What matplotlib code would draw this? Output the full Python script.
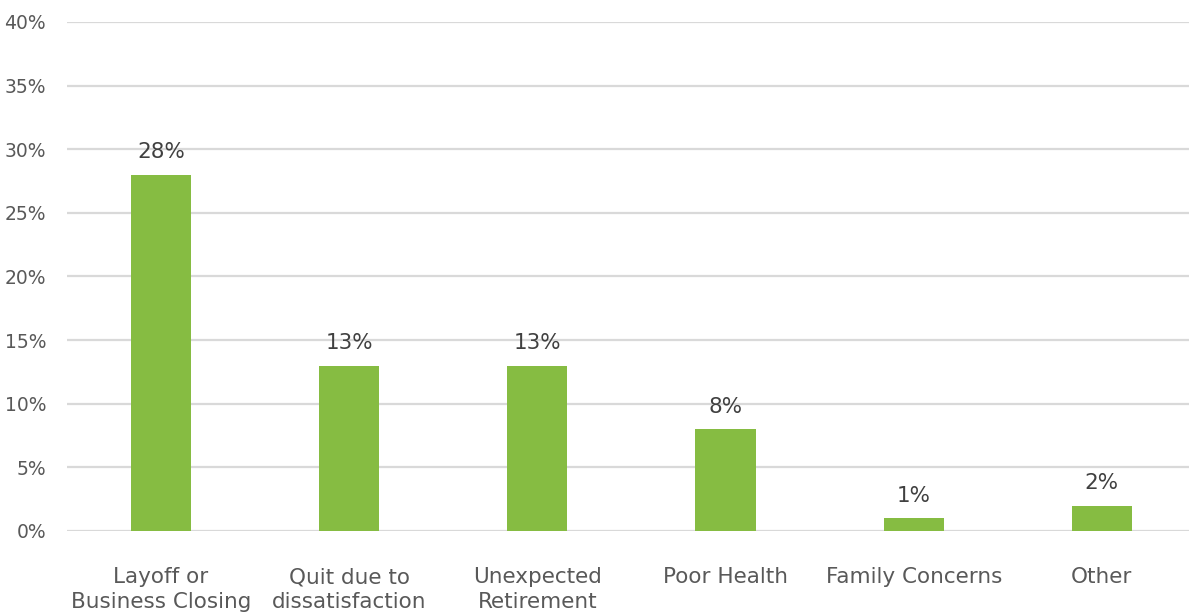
import matplotlib
import numpy as np
import matplotlib.pyplot as plt
from matplotlib.ticker import PercentFormatter

matplotlib.use('Agg')

categories = ['Layoff or\nBusiness Closing', 'Quit due to\ndissatisfaction',
              'Unexpected\nRetirement', 'Poor Health', 'Family Concerns', 'Other']
shares = [28, 13, 13, 8, 1, 2]
y_ticks = [0, 5, 10, 15, 20, 25, 30, 35, 40]

bar_color = '#86BC42'
grid_color = '#D9D9D9'
tick_color = '#595959'
label_color = '#404040'

plt.rcParams['font.family'] = ['DejaVu Sans']

fig = plt.figure(figsize=(11.89, 6.14), dpi=100)
ax = fig.add_axes([0.0563, 0.1352, 0.9496, 0.829])

x = np.arange(len(categories))
bars = ax.bar(x, shares, width=0.32, color=bar_color, zorder=3)

for b, v in zip(bars, shares):
    ax.annotate(f'{v}%', (b.get_x() + b.get_width() / 2, v),
                xytext=(0, 9), textcoords='offset points',
                ha='center', va='bottom', fontsize=15.5, color=label_color)

ax.set_xlim(-0.5, len(categories) - 0.5)
ax.set_ylim(0, 40)
ax.set_yticks(y_ticks)
ax.yaxis.set_major_formatter(PercentFormatter(decimals=0))
ax.set_xticks(x)
ax.set_xticklabels(categories, linespacing=1.3)

ax.grid(axis='y', color=grid_color, linewidth=1.6, zorder=0)
ax.tick_params(axis='both', length=0, colors=tick_color)
ax.tick_params(axis='y', pad=15, labelsize=13.5)
ax.tick_params(axis='x', pad=26, labelsize=15.5)
for s in ax.spines.values():
    s.set_visible(False)

fig.savefig('out.png', dpi=100)
